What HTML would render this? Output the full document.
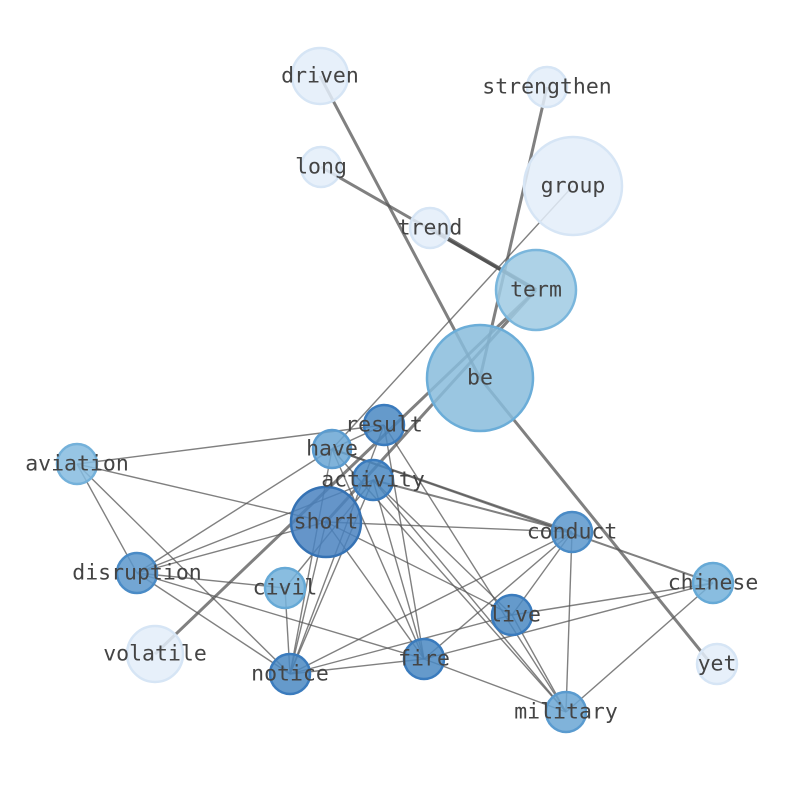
<!DOCTYPE html>
<html><head><meta charset="utf-8"><style>body{margin:0;background:#fff}svg{display:block}</style></head><body>
<svg width="794" height="790" xmlns="http://www.w3.org/2000/svg">
<g stroke="#555" stroke-opacity="0.75" fill="none">
<g stroke-width="3">
<line x1="320" y1="76" x2="480" y2="378"/>
<line x1="480" y1="378" x2="708" y2="660"/>
<line x1="547" y1="87" x2="480" y2="378"/>
<line x1="321" y1="167" x2="536" y2="290"/>
<line x1="430" y1="228" x2="536" y2="290" stroke="#444" stroke-width="4"/>
<line x1="536" y1="290" x2="155" y2="654"/>
<line x1="536" y1="290" x2="326" y2="522"/>
</g>
<g stroke-width="2">
<line x1="332" y1="449" x2="713" y2="583"/>
<line x1="373" y1="480" x2="572" y2="532"/>
<line x1="332" y1="449" x2="572" y2="532"/>
</g>
<g stroke-width="1.4">
<line x1="573" y1="186" x2="332" y2="449"/>
<line x1="77" y1="464" x2="384" y2="425"/>
<line x1="77" y1="464" x2="326" y2="522"/>
<line x1="77" y1="464" x2="137" y2="573"/>
<line x1="77" y1="464" x2="290" y2="674"/>
<line x1="137" y1="573" x2="332" y2="449"/>
<line x1="137" y1="573" x2="373" y2="480"/>
<line x1="137" y1="573" x2="326" y2="522"/>
<line x1="137" y1="573" x2="285" y2="588"/>
<line x1="137" y1="573" x2="424" y2="659"/>
<line x1="137" y1="573" x2="290" y2="674"/>
<line x1="326" y1="522" x2="572" y2="532"/>
<line x1="326" y1="522" x2="512" y2="615"/>
<line x1="326" y1="522" x2="424" y2="659"/>
<line x1="326" y1="522" x2="290" y2="674"/>
<line x1="373" y1="480" x2="290" y2="674"/>
<line x1="373" y1="480" x2="424" y2="659"/>
<line x1="373" y1="480" x2="512" y2="615"/>
<line x1="373" y1="480" x2="566" y2="712"/>
<line x1="373" y1="480" x2="285" y2="588"/>
<line x1="384" y1="425" x2="290" y2="674"/>
<line x1="384" y1="425" x2="424" y2="659"/>
<line x1="384" y1="425" x2="566" y2="712"/>
<line x1="384" y1="425" x2="332" y2="449"/>
<line x1="332" y1="449" x2="566" y2="712"/>
<line x1="332" y1="449" x2="424" y2="659"/>
<line x1="332" y1="449" x2="290" y2="674"/>
<line x1="572" y1="532" x2="290" y2="674"/>
<line x1="572" y1="532" x2="424" y2="659"/>
<line x1="572" y1="532" x2="512" y2="615"/>
<line x1="572" y1="532" x2="566" y2="712"/>
<line x1="713" y1="583" x2="512" y2="615"/>
<line x1="713" y1="583" x2="424" y2="659"/>
<line x1="713" y1="583" x2="566" y2="712"/>
<line x1="512" y1="615" x2="566" y2="712"/>
<line x1="424" y1="659" x2="290" y2="674"/>
<line x1="424" y1="659" x2="566" y2="712"/>
<line x1="285" y1="588" x2="290" y2="674"/>
<line x1="512" y1="615" x2="290" y2="674"/>
</g>
</g>
<g stroke-width="2.5" fill-opacity="0.85">
<circle cx="320" cy="76" r="28" fill="#e3edf9" stroke="#d6e5f5"/>
<circle cx="547" cy="87" r="20" fill="#e3edf9" stroke="#d6e5f5"/>
<circle cx="321" cy="167" r="20" fill="#e3edf9" stroke="#d6e5f5"/>
<circle cx="573" cy="186" r="49" fill="#e3edf9" stroke="#d6e5f5"/>
<circle cx="430" cy="228" r="20" fill="#e3edf9" stroke="#d6e5f5"/>
<circle cx="536" cy="290" r="40" fill="#9fcae3" stroke="#7ab6dc"/>
<circle cx="480" cy="378" r="53" fill="#88bcdc" stroke="#6badd8"/>
<circle cx="384" cy="425" r="20" fill="#4a88c2" stroke="#3a7bbd"/>
<circle cx="332" cy="449" r="19" fill="#6aa6d4" stroke="#5a9bcf"/>
<circle cx="77" cy="464" r="20" fill="#85bbdf" stroke="#74b1da"/>
<circle cx="373" cy="480" r="20" fill="#4a88c2" stroke="#3a7bbd"/>
<circle cx="326" cy="522" r="35" fill="#4a82bf" stroke="#3572b4"/>
<circle cx="572" cy="532" r="20" fill="#5a97cb" stroke="#4a8bc6"/>
<circle cx="137" cy="573" r="20" fill="#5a97cb" stroke="#4a8bc6"/>
<circle cx="285" cy="588" r="20" fill="#74b1da" stroke="#66a9d6"/>
<circle cx="713" cy="583" r="20" fill="#74b1da" stroke="#66a9d6"/>
<circle cx="512" cy="615" r="20" fill="#4a88c2" stroke="#3a7bbd"/>
<circle cx="155" cy="654" r="28" fill="#e3edf9" stroke="#d6e5f5"/>
<circle cx="424" cy="659" r="20" fill="#4a88c2" stroke="#3a7bbd"/>
<circle cx="290" cy="674" r="20" fill="#4a88c2" stroke="#3a7bbd"/>
<circle cx="717" cy="664" r="20" fill="#e3edf9" stroke="#d6e5f5"/>
<circle cx="566" cy="712" r="20" fill="#6aa6d4" stroke="#5a9bcf"/>
</g>
<g font-family="'DejaVu Sans Mono','Liberation Mono',monospace" font-size="21.5" fill="#444" text-anchor="middle" dominant-baseline="central">
<text x="320" y="76">driven</text>
<text x="547" y="87">strengthen</text>
<text x="321" y="167">long</text>
<text x="573" y="186">group</text>
<text x="430" y="228">trend</text>
<text x="536" y="290">term</text>
<text x="480" y="378">be</text>
<text x="384" y="425">result</text>
<text x="332" y="449">have</text>
<text x="77" y="464">aviation</text>
<text x="373" y="480">activity</text>
<text x="326" y="522">short</text>
<text x="572" y="532">conduct</text>
<text x="137" y="573">disruption</text>
<text x="285" y="588">civil</text>
<text x="713" y="583">chinese</text>
<text x="515" y="615">live</text>
<text x="155" y="654">volatile</text>
<text x="424" y="659">fire</text>
<text x="290" y="674">notice</text>
<text x="717" y="664">yet</text>
<text x="566" y="712">military</text>
</g>
</svg>
</body></html>
